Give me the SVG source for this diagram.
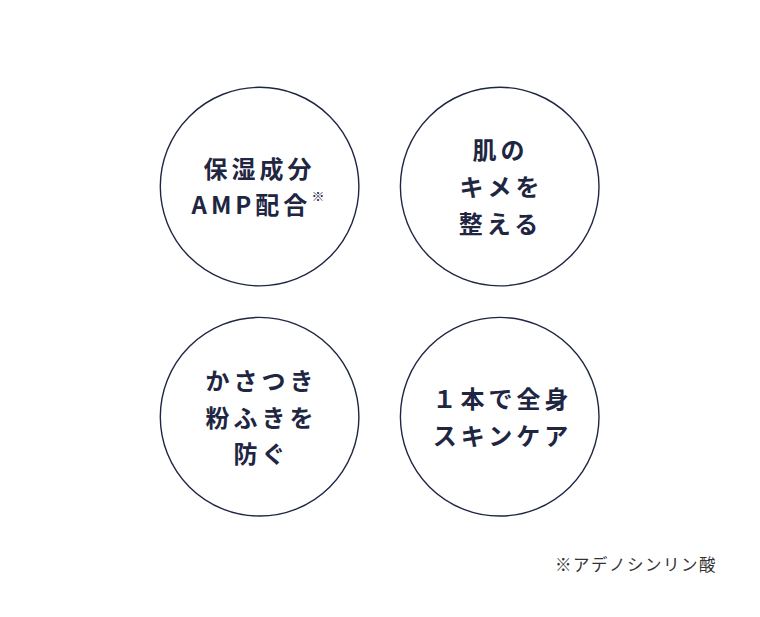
<svg xmlns="http://www.w3.org/2000/svg" width="760" height="617" viewBox="0 0 760 617">
<style>
.c{fill:#fff;stroke:#1f2642;stroke-width:1.4}
.t{font-family:"Noto Sans CJK JP","Noto Sans",sans-serif;font-weight:700;font-size:24px;letter-spacing:4px;fill:#1f2642;text-anchor:middle}
.n{font-family:"Noto Sans CJK JP","Noto Sans",sans-serif;font-size:16.5px;letter-spacing:1.5px;fill:#333}
</style>
<rect width="760" height="617" fill="#fff"/>
<g id="node1">
<circle class="c" cx="259.6" cy="186.6" r="99.3"/>
<text class="t" x="259.5" y="178">保湿成分</text>
<text class="t" x="191.5" y="214" style="text-anchor:start">AMP配合<tspan font-size="13" letter-spacing="0" dy="-13">※</tspan></text>
</g>
<g id="node2">
<circle class="c" cx="499.7" cy="186.6" r="99.3"/>
<text class="t" x="500.5" y="159">肌の</text>
<text class="t" x="501.5" y="196">キメを</text>
<text class="t" x="500.5" y="233">整える</text>
</g>
<g id="node3">
<circle class="c" cx="259.6" cy="416.7" r="99.3"/>
<text class="t" x="261.5" y="390">かさつき</text>
<text class="t" x="261.5" y="427">粉ふきを</text>
<text class="t" x="261.5" y="463">防ぐ</text>
</g>
<g id="node4">
<circle class="c" cx="499.7" cy="416.7" r="99.3"/>
<text class="t" x="502.5" y="408">１本で全身</text>
<text class="t" x="502.5" y="445">スキンケア</text>
</g>
<g id="connectors"></g>
<text class="n" x="555" y="571">※アデノシンリン酸</text>
</svg>
